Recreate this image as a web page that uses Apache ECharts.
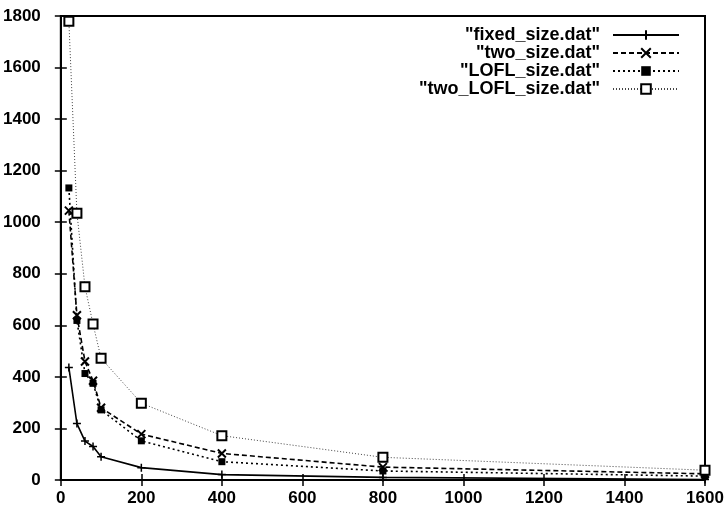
<!DOCTYPE html>
<html>
<head>
<meta charset="utf-8">
<script src="https://cdn.jsdelivr.net/npm/echarts@6/dist/echarts.min.js"></script>
<style>html,body{margin:0;padding:0;background:#fff;}#c{width:727px;height:517px;}</style>
</head>
<body>
<div id="c"></div>
<script>
var xValues = [20, 40, 60, 80, 100, 200, 400, 800, 1600];
var fixedSize = [436, 219, 151, 130, 90, 48, 21, 10, 2];
var twoSize = [1045, 639, 460, 385, 280, 178, 103, 50, 24];
var loflSize = [1133, 619, 413, 375, 272, 152, 71, 35, 15];
var twoLoflSize = [1780, 1035, 750, 605, 472, 298, 172, 88, 38];
var seriesNames = ['"fixed_size.dat"', '"two_size.dat"', '"LOFL_size.dat"', '"two_LOFL_size.dat"'];
var xTicks = [0, 200, 400, 600, 800, 1000, 1200, 1400, 1600];
var yTicks = [0, 200, 400, 600, 800, 1000, 1200, 1400, 1600, 1800];

function pairs(ys) { return xValues.map(function (x, i) { return [x, ys[i]]; }); }
var FONT = 'Liberation Sans, Arial, sans-serif';
var chart = echarts.init(document.getElementById('c'));
var axisCommon = {
  type: 'value',
  axisLine: { show: true, lineStyle: { color: '#000', width: 2 } },
  axisTick: { show: true, inside: true, length: 6, lineStyle: { color: '#000', width: 1.5 } },
  splitLine: { show: false }
};
function plain(v) { return String(v); }
chart.setOption({
  animation: false,
  backgroundColor: '#fff',
  grid: { left: 60, right: 22, top: 16, bottom: 37, show: true, borderColor: '#000', borderWidth: 2 },
  legend: {
    orient: 'vertical', right: 42, top: 21, align: 'right',
    itemWidth: 66, itemHeight: 12, itemGap: 0,
    textStyle: { fontFamily: FONT, fontSize: 18, fontWeight: 'bold', color: '#000', lineHeight: 15, padding: [0, 8, 0, 0] },
    data: seriesNames
  },
  xAxis: [
    Object.assign({}, axisCommon, {
      min: xTicks[0], max: xTicks[xTicks.length - 1], interval: 200, position: 'bottom',
      axisLabel: { fontFamily: FONT, fontSize: 17, fontWeight: 'bold', color: '#000', margin: 10, formatter: plain }
    }),
    Object.assign({}, axisCommon, {
      min: xTicks[0], max: xTicks[xTicks.length - 1], interval: 200, position: 'top',
      axisLabel: { show: false }
    })
  ],
  yAxis: [
    Object.assign({}, axisCommon, {
      min: yTicks[0], max: yTicks[yTicks.length - 1], interval: 200, position: 'left',
      axisLabel: { fontFamily: FONT, fontSize: 17, fontWeight: 'bold', color: '#000', margin: 20, formatter: plain }
    }),
    Object.assign({}, axisCommon, {
      min: yTicks[0], max: yTicks[yTicks.length - 1], interval: 200, position: 'right',
      axisLabel: { show: false }
    })
  ],
  series: [
    {
      name: seriesNames[0], type: 'line', data: pairs(fixedSize),
      symbol: 'path://M0,5L10,5M5,0L5,10', symbolSize: 8,
      itemStyle: { color: '#000', borderColor: '#000', borderWidth: 1.5 },
      lineStyle: { color: '#000', width: 1.6, type: 'solid' }
    },
    {
      name: seriesNames[1], type: 'line', data: pairs(twoSize),
      symbol: 'path://M0,0L10,10M10,0L0,10', symbolSize: 8,
      itemStyle: { color: '#000', borderColor: '#000', borderWidth: 2 },
      lineStyle: { color: '#000', width: 1.6, type: [5, 3] }
    },
    {
      name: seriesNames[2], type: 'line', data: pairs(loflSize),
      symbol: 'rect', symbolSize: 7,
      itemStyle: { color: '#000' },
      lineStyle: { color: '#000', width: 1.6, type: [2, 3] }
    },
    {
      name: seriesNames[3], type: 'line', data: pairs(twoLoflSize),
      symbol: 'emptyRect', symbolSize: 9,
      itemStyle: { color: '#000', borderWidth: 1.5 },
      lineStyle: { color: '#444', width: 1, type: [1, 2] }
    }
  ]
});
</script>
</body>
</html>
